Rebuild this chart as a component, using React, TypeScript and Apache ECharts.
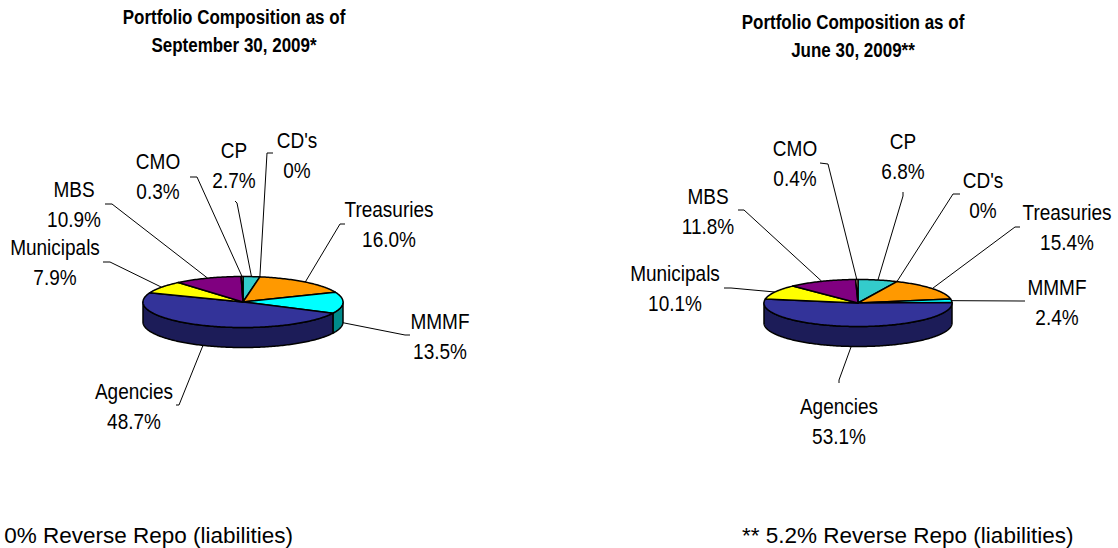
import React, { useEffect, useRef } from "react";
import * as echarts from "echarts";

// ---------- data ----------
const categories = ["CP", "CD's", "Treasuries", "MMMF", "Agencies", "Municipals", "MBS", "CMO"];
const sep2009Values = [2.7, 0, 16.0, 13.5, 48.7, 7.9, 10.9, 0.3];
const jun2009Values = [6.8, 0, 15.4, 2.4, 53.1, 10.1, 11.8, 0.4];
const titleLeft = ["Portfolio Composition as of", "September 30, 2009*"];
const titleRight = ["Portfolio Composition as of", "June 30, 2009**"];
const footLeft = "* 0% Reverse Repo (liabilities)";
const footRight = "** 5.2% Reverse Repo (liabilities)";

// ---------- styles ----------
const topColors = ["#33CCCC", "#CCFFFF", "#FF9900", "#00FFFF", "#333399", "#FFFF00", "#800080", "#FFCC99"];
const sideColors = ["#1F7A7A", "#7A9999", "#995C00", "#008B8B", "#1C1C58", "#999900", "#4D004D", "#997A5C"];
const FONT = "Liberation Sans, Arial, Helvetica, sans-serif";

// ---------- layout (positions only) ----------
const leftPie = { cx: 243, cy: 302, rx: 100, ry: 25.5, depth: 20 };
const rightPie = { cx: 858, cy: 303, rx: 94, ry: 23.5, depth: 20 };
// label block centre [x, y], leader knee [x, y], leader end [x, y]
const leftLabelLayout = [
  [234, 165, 237, 203, 235, 201],
  [297, 155, 267, 153, 273, 153],
  [389, 224, 340, 224, 345, 224],
  [440, 336, 405, 335, 410, 335],
  [134, 406, 179, 405, 176, 405],
  [55, 262, 110, 262, 103, 262],
  [74, 204, 112, 204, 105, 204],
  [158, 176, 197, 177, 190, 177],
];
const rightLabelLayout = [
  [903, 156, 903, 196, 903, 192],
  [983, 195, 953, 194, 960, 194],
  [1067, 227, 1015, 227, 1020, 227],
  [1057, 302, 1020, 301, 1025, 301],
  [839, 421, 839, 380, 839, 383],
  [675, 288, 731, 288, 724, 288],
  [708, 211, 744, 210, 738, 210],
  [795, 163, 828, 164, 820, 163],
];

function fmt(v: number) {
  return v === 0 ? "0%" : v.toFixed(1) + "%";
}

function makeRenderItem(values: number[], pie: any, layout: number[][]) {
  const total = values.reduce((a, b) => a + b, 0);
  const starts: number[] = [];
  let acc = 0;
  values.forEach((v) => {
    starts.push((acc / total) * 360);
    acc += v;
  });
  const pt = (deg: number, dy: number) => {
    const r = (deg * Math.PI) / 180;
    return [pie.cx + pie.rx * Math.sin(r), pie.cy - pie.ry * Math.cos(r) + dy];
  };
  const arc = (a0: number, a1: number, dy: number) => {
    const pts: number[][] = [];
    const n = Math.max(2, Math.ceil(Math.abs(a1 - a0) / 1));
    for (let k = 0; k <= n; k++) pts.push(pt(a0 + ((a1 - a0) * k) / n, dy));
    return pts;
  };
  return (params: any, api: any) => {
    const i = params.dataIndex;
    const v = api.value(0) as number;
    const a0 = starts[i];
    const a1 = a0 + (v / total) * 360;
    const children: any[] = [];
    if (v > 0) {
      const lo = Math.max(a0, 90);
      const hi = Math.min(a1, 270);
      if (lo < hi) {
        const pts = arc(lo, hi, 0).concat(arc(hi, lo, pie.depth));
        children.push({
          type: "polygon",
          z2: 1,
          shape: { points: pts },
          style: { fill: sideColors[i], stroke: "#000", lineWidth: 1.5, lineJoin: "round" },
        });
      }
      children.push({
        type: "polygon",
        z2: 5,
        shape: { points: [[pie.cx, pie.cy]].concat(arc(a0, a1, 0)) },
        style: { fill: topColors[i], stroke: "#000", lineWidth: 1.5, lineJoin: "round" },
      });
    }
    const mid = (a0 + a1) / 2;
    const front = Math.cos((mid * Math.PI) / 180) < 0;
    const anchor = pt(mid, front ? pie.depth : 0);
    const L = layout[i];
    children.push({
      type: "polyline",
      z2: 8,
      shape: { points: [anchor, [L[2], L[3]], [L[4], L[5]]] },
      style: { stroke: "#000", lineWidth: 1, fill: null },
    });
    children.push({
      type: "text",
      z2: 9,
      x: L[0],
      y: L[1],
      scaleY: 1.18,
      style: {
        x: 0,
        y: 0,
        text: categories[i] + "\n" + fmt(v),
        fill: "#000",
        font: "19px " + FONT,
        lineHeight: 25,
        align: "center",
        verticalAlign: "middle",
        textAlign: "center",
        textVerticalAlign: "middle",
      },
    });
    return { type: "group", children };
  };
}

function titleText(x: number, y: number, text: string, size: number, bold: boolean, align: string, sy: number) {
  return {
    type: "text",
    x,
    y,
    scaleY: sy,
    style: {
      x: 0,
      y: 0,
      text,
      fill: "#000",
      font: (bold ? "bold " : "") + size + "px " + FONT,
      textAlign: align,
      textVerticalAlign: "middle",
      align,
      verticalAlign: "middle",
    },
  };
}

export default function App() {
  const ref = useRef<HTMLDivElement>(null);
  useEffect(() => {
    if (!ref.current) return;
    const chart = echarts.init(ref.current, null, { renderer: "svg" });
    chart.setOption({
      animation: false,
      backgroundColor: "#ffffff",
      graphic: [
        titleText(234, 17, titleLeft[0], 17, true, "center", 1.15),
        titleText(234, 45, titleLeft[1], 17, true, "center", 1.15),
        titleText(853, 22, titleRight[0], 17, true, "center", 1.15),
        titleText(853, 50, titleRight[1], 17, true, "center", 1.15),
        titleText(293, 535, footLeft, 22.5, false, "right", 1.0),
        titleText(742, 535, footRight, 22.5, false, "left", 1.0),
      ],
      series: [
        {
          type: "custom",
          name: "September 30, 2009",
          coordinateSystem: "none",
          silent: true,
          renderItem: makeRenderItem(sep2009Values, leftPie, leftLabelLayout),
          data: sep2009Values.map((v, i) => ({ name: categories[i], value: [v] })),
        },
        {
          type: "custom",
          name: "June 30, 2009",
          coordinateSystem: "none",
          silent: true,
          renderItem: makeRenderItem(jun2009Values, rightPie, rightLabelLayout),
          data: jun2009Values.map((v, i) => ({ name: categories[i], value: [v] })),
        },
      ],
    });
    return () => chart.dispose();
  }, []);
  return (
    <div
      ref={ref}
      style={{ position: "fixed", left: 0, top: 0, width: 1118, height: 548, background: "#fff" }}
    />
  );
}
